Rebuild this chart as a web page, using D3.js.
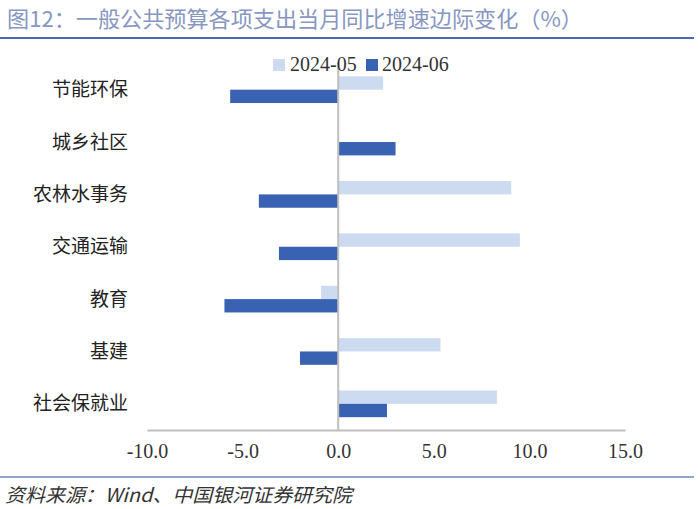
<!DOCTYPE html>
<html><head><meta charset="utf-8">
<script src="https://cdn.jsdelivr.net/npm/d3@7/dist/d3.min.js"></script>
<style>body{margin:0;background:#fff}svg{display:block}</style>
</head><body><svg id="c" width="700" height="509"></svg>
<script>
const categories = ["节能环保","城乡社区","农林水事务","交通运输","教育","基建","社会保就业"];
const seriesNames = ["2024-05","2024-06"];
const may = [2.35, 0, 9.05, 9.5, -0.9, 5.35, 8.3];
const june = [-5.65, 3.0, -4.15, -3.1, -5.95, -2.0, 2.55];
const xTicks = [-10, -5, 0, 5, 10, 15];
const colors = ["#cddbf0", "#3a62b3"];

const svg = d3.select("#c");
const x = d3.scaleLinear().domain([-10, 15]).range([147, 625]);
const y = d3.scaleBand().domain(categories).range([63.5, 430]).paddingInner(0.49).paddingOuter(0.245);
const ys = d3.scaleBand().domain(seriesNames).range([0, y.bandwidth()]);

// title
svg.append("text").attr("x", 7).attr("y", 27)
  .attr("font-family", "Noto Sans CJK SC").attr("font-size", 22)
  .attr("fill", "#8797c2").attr("textLength", 576).attr("lengthAdjust", "spacingAndGlyphs")
  .text("图12：一般公共预算各项支出当月同比增速边际变化（%）");
svg.append("line").attr("x1", 0).attr("x2", 694).attr("y1", 38).attr("y2", 38)
  .attr("stroke", "#4a68ad").attr("stroke-width", 2);

// bars
const data = [may, june];
data.forEach((vals, si) => {
  svg.append("g").selectAll("rect").data(categories).join("rect")
    .attr("x", (d, i) => x(Math.min(0, vals[i])))
    .attr("width", (d, i) => Math.abs(x(vals[i]) - x(0)))
    .attr("y", d => y(d) + ys(seriesNames[si]))
    .attr("height", ys.bandwidth())
    .attr("fill", colors[si]);
});

// x axis
const fmt = d3.format(".1f");
const xAxis = d3.axisBottom(x).tickValues(xTicks).tickFormat(d => fmt(d).replace("−", "-")).tickSize(0).tickPadding(14);
const gx = svg.append("g").attr("transform", "translate(0,430)").call(xAxis);
gx.select(".domain").attr("stroke", "#bfbfbf").attr("stroke-width", 2);
gx.selectAll("text").attr("font-family", "Liberation Serif").attr("font-size", 20).attr("fill", "#333");

// zero line
svg.append("line").attr("x1", x(0)).attr("x2", x(0)).attr("y1", 62).attr("y2", 430)
  .attr("stroke", "#bfbfbf").attr("stroke-width", 2);

// y labels
svg.append("g").selectAll("text").data(categories).join("text")
  .attr("x", 128).attr("y", d => y(d) + y.bandwidth() / 2)
  .attr("dy", "0.35em").attr("text-anchor", "end")
  .attr("font-family", "Noto Sans CJK SC").attr("font-size", 19).attr("fill", "#222")
  .text(d => d);

// legend
const leg = [{x: 273, tx: 290}, {x: 366, tx: 382}];
seriesNames.forEach((s, i) => {
  svg.append("rect").attr("x", leg[i].x).attr("y", 59).attr("width", 12).attr("height", 12).attr("fill", colors[i]);
  svg.append("text").attr("x", leg[i].tx).attr("y", 71).attr("font-family", "Liberation Serif")
    .attr("font-size", 20).attr("fill", "#333").text(s);
});

// footer
svg.append("line").attr("x1", 0).attr("x2", 694).attr("y1", 477).attr("y2", 477)
  .attr("stroke", "#6f86c0").attr("stroke-width", 1.5);
svg.append("text").attr("x", 5).attr("y", 502)
  .attr("font-family", "Noto Sans CJK SC").attr("font-size", 19).attr("font-style", "italic")
  .attr("fill", "#333").attr("textLength", 347).attr("lengthAdjust", "spacingAndGlyphs")
  .text("资料来源：Wind、中国银河证券研究院");
</script></body></html>
